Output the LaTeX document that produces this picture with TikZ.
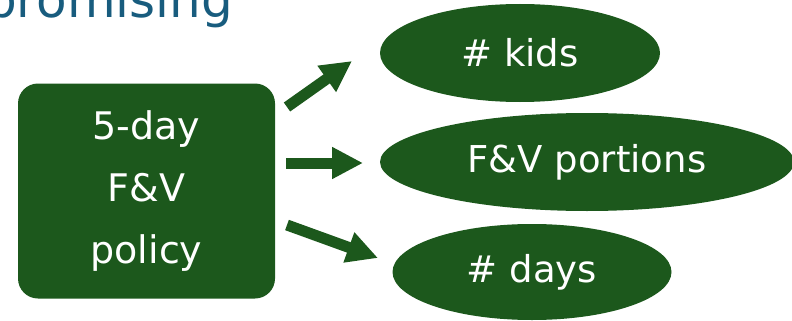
\documentclass[tikz,border=0pt]{standalone}
\usepackage{fontspec}
\setmainfont{DejaVu Sans}
\usepackage{xcolor}
\usepackage{tikz}
\usetikzlibrary{positioning,shapes.geometric,arrows.meta}

\definecolor{fvgreen}{RGB}{28,88,28}
\definecolor{titleblue}{RGB}{24,92,126}

\tikzset{
  policybox/.style={draw=none,fill=fvgreen,text=white,rounded corners=20pt,
    minimum width=257pt,minimum height=215pt,inner sep=0pt,align=center,
    font=\fontsize{38}{62}\selectfont},
  outcome/.style={ellipse,draw=none,fill=fvgreen,text=white,inner sep=0pt,
    minimum height=98pt,font=\fontsize{37}{44}\selectfont},
  fatarrow/.style={draw=fvgreen,line width=11pt,
    -{Triangle[length=31pt,width=30pt]}}
}

\begin{document}
\begin{tikzpicture}[x=1pt,y=-1pt]
\useasboundingbox (0,0) rectangle (792,321);
% title, cut off at the top
\node[anchor=base west,inner sep=0pt,text=titleblue,font=\fontsize{50}{60}\selectfont]
  (title) at (-15,18) {promising};
% cause
\node[policybox] (policy) at (146.5,191) {5-day\\F\&V\\policy};
% outcomes
\node[outcome,minimum width=280pt] (kids) at (520,53) {\# kids};
\node[outcome,minimum width=414pt] (portions) at (587,162) {F\&V portions};
\node[outcome,minimum width=279pt,minimum height=96pt] (days) at (532,272) {\# days};
% arrows
\coordinate (kidsfrom) at (287,107);
\coordinate (kidsto) at (352,61);
\coordinate (portionsfrom) at (286,163);
\coordinate (portionsto) at (363,163);
\coordinate (daysfrom) at (287,225);
\coordinate (daysto) at (378,258);
\draw[fatarrow] (kidsfrom) -- (kidsto);
\draw[fatarrow] (portionsfrom) -- (portionsto);
\draw[fatarrow] (daysfrom) -- (daysto);
\end{tikzpicture}
\end{document}
